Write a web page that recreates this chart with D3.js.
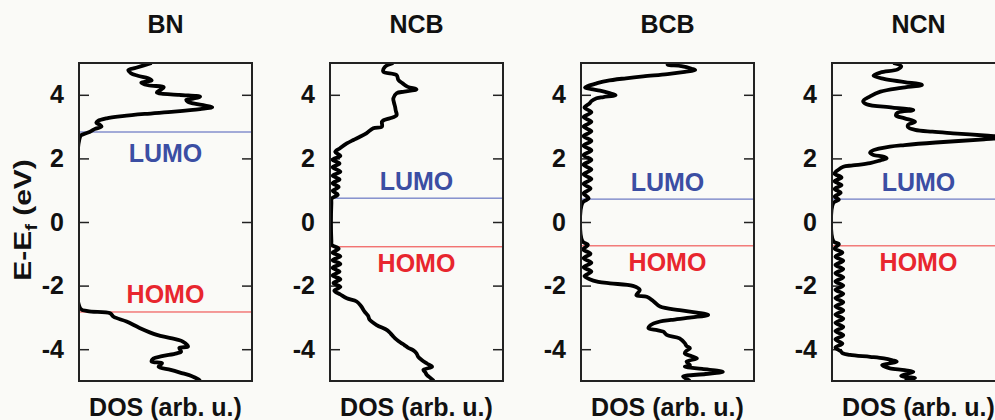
<!DOCTYPE html>
<html>
<head>
<meta charset="utf-8">
<script src="https://cdn.jsdelivr.net/npm/d3@7"></script>
<style>
  body { margin: 0; background: #fafaf7; }
  svg { display: block; font-family: "Liberation Sans", Arial, sans-serif; font-weight: bold; }
</style>
</head>
<body>
<div id="chart"></div>
<script>
// panel names and frontier levels (eV)
const panelNames = ["BN", "NCB", "BCB", "NCN"];
const lumoLevels = [2.83, 0.75, 0.72, 0.72];
const homoLevels = [-2.83, -0.78, -0.75, -0.75];
const yTicks = [-4, -2, 0, 2, 4];

// DOS curves, [E - Ef (eV), DOS (fraction of panel width)]
const dosBN = [[5.0,0.42],[4.85,0.33],[4.78,0.285],[4.68,0.30],[4.6,0.34],[4.52,0.40],[4.45,0.42],[4.38,0.36],[4.3,0.40],[4.24,0.49],[4.15,0.47],[4.07,0.45],[4.0,0.58],[3.94,0.70],[3.88,0.66],[3.84,0.62],[3.78,0.63],[3.73,0.66],[3.66,0.73],[3.61,0.77],[3.55,0.70],[3.47,0.55],[3.4,0.38],[3.33,0.25],[3.26,0.16],[3.18,0.11],[3.12,0.10],[3.06,0.12],[3.0,0.13],[2.92,0.09],[2.84,0.064],[2.76,0.025],[2.7,0.008],[-2.72,0.008],[-2.8,0.05],[-2.87,0.18],[-2.98,0.20],[-3.13,0.275],[-3.33,0.35],[-3.55,0.45],[-3.65,0.53],[-3.76,0.60],[-3.92,0.63],[-3.96,0.58],[-4.08,0.59],[-4.13,0.565],[-4.22,0.48],[-4.29,0.43],[-4.39,0.42],[-4.44,0.48],[-4.55,0.46],[-4.65,0.53],[-4.76,0.60],[-4.84,0.65],[-4.95,0.69],[-5.0,0.70]];
const dosNCB = [[5.0,0.366],[4.88,0.318],[4.73,0.308],[4.62,0.385],[4.47,0.395],[4.36,0.42],[4.25,0.45],[4.17,0.50],[4.1,0.43],[4.05,0.385],[3.89,0.366],[3.75,0.37],[3.63,0.376],[3.5,0.38],[3.36,0.385],[3.26,0.347],[3.2,0.31],[3.15,0.30],[3.0,0.30],[2.95,0.25],[2.79,0.21],[2.68,0.173],[2.58,0.135],[2.47,0.097],[2.32,0.058],[2.2,0.03],[2.08,0.06],[1.96,0.015],[1.84,0.055],[1.72,0.015],[1.58,0.06],[1.46,0.015],[1.34,0.055],[1.22,0.015],[1.1,0.05],[0.98,0.015],[0.86,0.045],[0.74,0.01],[0.6,0.008],[-0.6,0.008],[-0.72,0.01],[-0.84,0.05],[-0.96,0.015],[-1.08,0.06],[-1.2,0.015],[-1.32,0.06],[-1.44,0.015],[-1.56,0.055],[-1.68,0.015],[-1.8,0.06],[-1.92,0.02],[-2.04,0.06],[-2.16,0.025],[-2.28,0.06],[-2.4,0.097],[-2.5,0.154],[-2.65,0.18],[-2.82,0.20],[-2.95,0.22],[-3.08,0.23],[-3.24,0.27],[-3.4,0.33],[-3.5,0.35],[-3.6,0.366],[-3.7,0.385],[-3.8,0.41],[-3.87,0.43],[-3.95,0.45],[-4.03,0.48],[-4.13,0.50],[-4.24,0.51],[-4.34,0.53],[-4.45,0.56],[-4.55,0.59],[-4.65,0.54],[-4.72,0.55],[-4.81,0.56],[-4.9,0.58],[-5.0,0.60]];
const dosBCB = [[5.0,0.524],[4.95,0.50],[4.9,0.58],[4.82,0.64],[4.78,0.66],[4.72,0.60],[4.65,0.50],[4.58,0.36],[4.52,0.26],[4.44,0.15],[4.36,0.09],[4.28,0.04],[4.23,0.023],[4.18,0.06],[4.13,0.11],[4.06,0.16],[3.99,0.20],[3.93,0.13],[3.89,0.09],[3.8,0.06],[3.73,0.05],[3.6,0.02],[3.45,0.06],[3.3,0.015],[3.15,0.06],[3.0,0.015],[2.85,0.06],[2.7,0.015],[2.55,0.06],[2.4,0.015],[2.25,0.06],[2.1,0.015],[1.95,0.06],[1.8,0.015],[1.65,0.06],[1.5,0.015],[1.35,0.06],[1.2,0.015],[1.05,0.055],[0.9,0.015],[0.75,0.045],[0.6,0.008],[-0.6,0.008],[-0.72,0.04],[-0.86,0.012],[-1.0,0.055],[-1.14,0.015],[-1.28,0.06],[-1.42,0.015],[-1.56,0.06],[-1.7,0.02],[-1.8,0.05],[-1.88,0.10],[-1.93,0.168],[-2.01,0.30],[-2.14,0.34],[-2.3,0.32],[-2.35,0.38],[-2.5,0.42],[-2.66,0.457],[-2.77,0.57],[-2.85,0.67],[-2.92,0.735],[-3.0,0.64],[-3.08,0.52],[-3.13,0.457],[-3.25,0.40],[-3.34,0.39],[-3.4,0.44],[-3.45,0.476],[-3.55,0.495],[-3.66,0.57],[-3.81,0.60],[-3.9,0.61],[-3.97,0.63],[-4.05,0.61],[-4.13,0.60],[-4.22,0.64],[-4.29,0.67],[-4.39,0.61],[-4.5,0.63],[-4.55,0.60],[-4.62,0.70],[-4.71,0.82],[-4.78,0.72],[-4.86,0.59],[-4.93,0.61],[-5.0,0.63]];
const dosNCN = [[5.0,0.354],[4.9,0.40],[4.8,0.38],[4.7,0.28],[4.6,0.24],[4.5,0.30],[4.4,0.42],[4.31,0.52],[4.22,0.40],[4.1,0.28],[3.95,0.22],[3.8,0.18],[3.7,0.20],[3.6,0.35],[3.52,0.47],[3.44,0.38],[3.35,0.37],[3.26,0.42],[3.15,0.48],[3.06,0.44],[2.98,0.44],[2.9,0.48],[2.84,0.58],[2.79,0.70],[2.72,0.88],[2.66,1.02],[2.6,0.88],[2.5,0.6],[2.42,0.42],[2.37,0.335],[2.26,0.24],[2.18,0.22],[2.11,0.24],[2.05,0.30],[2.0,0.316],[1.94,0.28],[1.85,0.22],[1.78,0.12],[1.74,0.065],[1.64,0.036],[1.52,0.015],[1.4,0.055],[1.28,0.015],[1.16,0.055],[1.04,0.015],[0.92,0.05],[0.8,0.015],[0.7,0.04],[0.6,0.008],[-0.6,0.008],[-0.7,0.04],[-0.83,0.015],[-0.96,0.06],[-1.09,0.02],[-1.22,0.065],[-1.35,0.02],[-1.48,0.065],[-1.61,0.02],[-1.74,0.065],[-1.87,0.02],[-2.0,0.065],[-2.13,0.02],[-2.26,0.065],[-2.39,0.02],[-2.52,0.065],[-2.65,0.02],[-2.78,0.065],[-2.91,0.02],[-3.04,0.065],[-3.17,0.02],[-3.3,0.065],[-3.43,0.02],[-3.56,0.065],[-3.69,0.02],[-3.82,0.06],[-3.95,0.02],[-4.06,0.05],[-4.12,0.06],[-4.18,0.104],[-4.24,0.22],[-4.29,0.30],[-4.35,0.35],[-4.39,0.374],[-4.45,0.33],[-4.5,0.29],[-4.56,0.31],[-4.6,0.335],[-4.66,0.42],[-4.71,0.47],[-4.78,0.43],[-4.84,0.40],[-4.91,0.48],[-4.99,0.42]];
const dosCurves = [dosBN, dosNCB, dosBCB, dosNCN];

// layout
const width = 995, height = 420;
const panelLeft = [79, 330, 581, 832];
const panelW = 173;
const plotTop = 63, plotBottom = 381;
// label baseline offsets from their level lines
const lumoLabelDy = [30, -8, -8, -8];
const homoLabelDy = [-9, 25, 25, 25];

const svg = d3.select("#chart").append("svg")
    .attr("width", width)
    .attr("height", height)
;
svg.append("rect")
    .attr("width", width)
    .attr("height", height)
    .attr("fill", "#fafaf7")
;

const yScale = d3.scaleLinear().domain([-5, 5]).range([plotBottom, plotTop]);
const xScale = d3.scaleLinear().domain([0, 1]).range([0, panelW]);

const line = d3.line()
    .x(d => xScale(d[1]))
    .y(d => yScale(d[0]))
    .curve(d3.curveCatmullRom.alpha(0.5))
;

svg.append("defs").append("clipPath")
    .attr("id", "plotClip")
    .append("rect")
    .attr("x", 0)
    .attr("y", plotTop)
    .attr("width", panelW)
    .attr("height", plotBottom - plotTop)
;

panelNames.forEach((name, i) => {
    const g = svg.append("g")
        .attr("class", "panelG")
        .attr("transform", "translate(" + panelLeft[i] + ",0)")
    ;

    g.append("text")
        .attr("x", panelW / 2)
        .attr("y", 33)
        .attr("text-anchor", "middle")
        .attr("font-size", 25)
        .attr("fill", "#111")
        .text(name)
    ;

    // left axis with labels, right axis ticks only (inward)
    const leftAxis = d3.axisLeft(yScale).tickValues(yTicks).tickSize(-10).tickPadding(15).tickFormat(d3.format("d"));
    const axG = g.append("g").call(leftAxis);
    axG.select(".domain").remove();
    axG.selectAll("line").attr("stroke", "#222").attr("stroke-width", 1.5);
    axG.selectAll("text")
        .attr("font-size", 25)
        .attr("font-weight", "bold")
        .attr("font-family", "Liberation Sans, Arial, sans-serif")
        .attr("fill", "#111")
        .text(d => d < 0 ? "-" + Math.abs(d) : d)
    ;

    const rightAxis = d3.axisRight(yScale).tickValues(yTicks).tickSize(-10).tickFormat("");
    const raG = g.append("g").attr("transform", "translate(" + panelW + ",0)").call(rightAxis);
    raG.select(".domain").remove();
    raG.selectAll("line").attr("stroke", "#222").attr("stroke-width", 1.5);

    // frontier levels
    g.append("line")
        .attr("x1", 0).attr("x2", panelW)
        .attr("y1", yScale(lumoLevels[i])).attr("y2", yScale(lumoLevels[i]))
        .attr("stroke", "#4a5bb8")
        .attr("stroke-width", 1)
    ;
    g.append("line")
        .attr("x1", 0).attr("x2", panelW)
        .attr("y1", yScale(homoLevels[i])).attr("y2", yScale(homoLevels[i]))
        .attr("stroke", "#ee3a3a")
        .attr("stroke-width", 1)
    ;
    g.append("text")
        .attr("x", panelW / 2)
        .attr("y", yScale(lumoLevels[i]) + lumoLabelDy[i])
        .attr("text-anchor", "middle")
        .attr("font-size", 25)
        .attr("fill", "#3b4ea3")
        .text("LUMO")
    ;
    g.append("text")
        .attr("x", panelW / 2)
        .attr("y", yScale(homoLevels[i]) + homoLabelDy[i])
        .attr("text-anchor", "middle")
        .attr("font-size", 25)
        .attr("fill", "#e8262e")
        .text("HOMO")
    ;

    // DOS curve
    g.append("path")
        .datum(dosCurves[i])
        .attr("clip-path", "url(#plotClip)")
        .attr("d", line)
        .attr("fill", "none")
        .attr("stroke", "#000")
        .attr("stroke-width", 3.8)
        .attr("stroke-linejoin", "round")
    ;

    // frame
    g.append("rect")
        .attr("x", 0)
        .attr("y", plotTop)
        .attr("width", panelW)
        .attr("height", plotBottom - plotTop)
        .attr("fill", "none")
        .attr("stroke", "#222")
        .attr("stroke-width", 2)
    ;

    g.append("text")
        .attr("x", panelW / 2)
        .attr("y", 416)
        .attr("text-anchor", "middle")
        .attr("font-size", 25)
        .attr("fill", "#111")
        .text("DOS (arb. u.)")
    ;
});

// y axis title
const yTitle = svg.append("text")
    .attr("transform", "translate(31,220) rotate(-90) scale(1.25,1)")
    .attr("text-anchor", "middle")
    .attr("font-size", 24)
    .attr("fill", "#111")
;
yTitle.append("tspan").text("E-E");
yTitle.append("tspan").attr("font-size", 16).attr("dy", 6).text("f");
yTitle.append("tspan").attr("dy", -6).text(" (eV)");
</script>
</body>
</html>
